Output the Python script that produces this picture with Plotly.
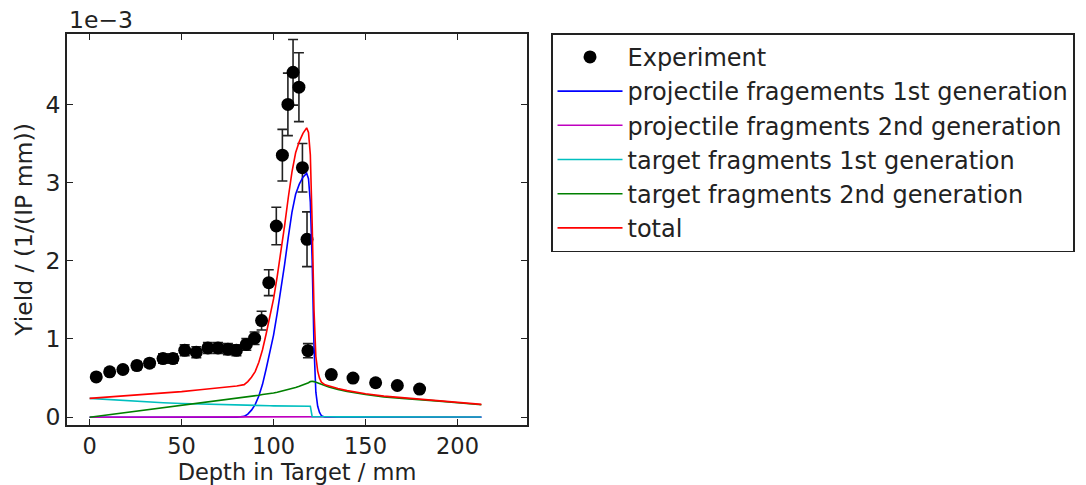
import numpy as np
import plotly.graph_objects as go

# ---------------- data (yield in units of 1e-3 per IP per mm) ----------------
exp_depth = [3.6, 10.9, 18.1, 25.7, 32.6, 39.9, 45.3, 51.7, 58.0, 64.3, 69.8, 75.2,
             79.8, 85.2, 89.7, 93.5, 97.4, 101.5, 104.8, 107.8, 110.6, 113.8, 115.7,
             118.2, 118.7, 131.4, 143.2, 155.5, 167.3, 179.4]
exp_yield = [0.515, 0.58, 0.61, 0.66, 0.69, 0.75, 0.75, 0.855, 0.83, 0.885, 0.885, 0.87,
             0.855, 0.93, 1.01, 1.235, 1.72, 2.445, 3.35, 4.0, 4.41, 4.22, 3.19,
             2.275, 0.85, 0.545, 0.50, 0.44, 0.405, 0.36]
exp_err = [0.04, 0.04, 0.045, 0.05, 0.05, 0.06, 0.06, 0.07, 0.07, 0.07, 0.07, 0.07,
           0.07, 0.075, 0.08, 0.12, 0.165, 0.24, 0.33, 0.40, 0.42, 0.44, 0.31,
           0.35, 0.09, 0.04, 0.04, 0.035, 0.035, 0.03]

sim_depth = [0, 10, 20, 30, 40, 50, 60, 70, 80, 84, 86, 88, 90, 92, 94, 96, 98, 100,
             102, 104, 106, 108, 110, 112, 114, 116, 118, 119, 120, 121, 122, 123, 124,
             125, 126, 128, 130, 135, 140, 150, 160, 170, 180, 190, 200, 213]

proj_1st = [0, 0, 0, 0, 0, 0, 0, 0, 0, 0.01, 0.04, 0.09, 0.16, 0.27, 0.42, 0.62, 0.85, 1.05,
            1.33, 1.63, 1.95, 2.30, 2.62, 2.85, 2.98, 3.07, 3.12, 3.05, 2.75, 2.00, 0.90, 0.32, 0.14,
            0.06, 0.02, 0, 0, 0, 0, 0, 0, 0, 0, 0, 0, 0]
proj_2nd = [0, 0.001, 0.001, 0.002, 0.002, 0.002, 0.003, 0.003, 0.004, 0.004, 0.004, 0.005, 0.005, 0.005, 0.006, 0.006, 0.006, 0.007,
            0.007, 0.007, 0.008, 0.008, 0.008, 0.009, 0.009, 0.009, 0.010, 0.010, 0.010, 0.010, 0.010, 0.009, 0.009,
            0.009, 0.008, 0.008, 0.007, 0.007, 0.006, 0.005, 0.005, 0.004, 0.004, 0.003, 0.003, 0.003]
targ_1st = [0.240, 0.225, 0.210, 0.197, 0.185, 0.175, 0.167, 0.160, 0.155, 0.152, 0.151, 0.150, 0.148, 0.147, 0.147, 0.146, 0.146, 0.145,
            0.145, 0.144, 0.144, 0.143, 0.142, 0.142, 0.141, 0.141, 0.140, 0.140, 0.140, 0.006, 0.005, 0.005, 0.005,
            0.005, 0.005, 0.005, 0.005, 0.004, 0.004, 0.004, 0.004, 0.004, 0.003, 0.003, 0.003, 0.003]
targ_2nd = [0, 0.030, 0.060, 0.090, 0.120, 0.150, 0.180, 0.210, 0.240, 0.250, 0.260, 0.265, 0.270, 0.280, 0.290, 0.295, 0.300, 0.310,
            0.320, 0.330, 0.345, 0.355, 0.365, 0.380, 0.395, 0.410, 0.430, 0.440, 0.455, 0.460, 0.455, 0.445, 0.435,
            0.425, 0.415, 0.400, 0.385, 0.355, 0.330, 0.290, 0.260, 0.240, 0.225, 0.205, 0.185, 0.158]
total = [0.240, 0.256, 0.271, 0.289, 0.307, 0.327, 0.350, 0.373, 0.399, 0.416, 0.455, 0.510, 0.583, 0.702, 0.863, 1.067, 1.302, 1.512,
         1.802, 2.111, 2.447, 2.806, 3.135, 3.381, 3.524, 3.630, 3.700, 3.640, 3.355, 2.476, 1.370, 0.779, 0.589,
         0.499, 0.448, 0.413, 0.397, 0.366, 0.340, 0.299, 0.269, 0.248, 0.232, 0.211, 0.191, 0.164]

series = [
    ("projectile fragements 1st generation", proj_1st, "#0000ff"),
    ("projectile fragments 2nd generation", proj_2nd, "#bf00bf"),
    ("target fragments 1st generation", targ_1st, "#00bfbf"),
    ("target fragments 2nd generation", targ_2nd, "#008000"),
    ("total", total, "#ff0000"),
]

SCALE = 1e-3
FONT = "DejaVu Sans"
FS = 23.5
XFS = 22.5
LFS = 24
INK = "#222222"

fig = go.Figure()
fig.add_trace(go.Scatter(
    x=exp_depth, y=np.array(exp_yield) * SCALE, mode="markers", name="Experiment",
    marker=dict(color="black", size=13),
    error_y=dict(type="data", array=np.array(exp_err) * SCALE, color=INK,
                 thickness=1.6, width=5),
))
for name, vals, col in series:
    fig.add_trace(go.Scatter(
        x=sim_depth, y=np.array(vals) * SCALE, mode="lines", name=name,
        line=dict(color=col, width=1.6),
    ))

ytick_vals = [0, 1, 2, 3, 4]
xtick_vals = [0, 50, 100, 150, 200]

axis_common = dict(showline=True, linecolor=INK, linewidth=1.6, mirror="ticks",
                   ticks="inside", ticklen=6, tickwidth=1, tickcolor=INK,
                   showgrid=False, zeroline=False)

fig.update_layout(
    width=1086, height=485,
    margin=dict(l=67, r=559, t=34, b=60, autoexpand=False),
    paper_bgcolor="white", plot_bgcolor="white",
    font=dict(family=FONT, size=FS, color=INK),
    xaxis=dict(range=[-12.3, 237.8], tickvals=xtick_vals,
               tickfont=dict(family=FONT, size=XFS, color=INK),
               title=dict(text="Depth in Target / mm", standoff=6,
                          font=dict(family=FONT, size=XFS, color=INK)),
               **axis_common),
    yaxis=dict(range=[-0.1 * SCALE, 4.9 * SCALE],
               tickvals=[v * SCALE for v in ytick_vals],
               ticktext=[str(v) for v in ytick_vals],
               tickfont=dict(family=FONT, size=FS, color=INK),
               title=dict(text="Yield / (1/(IP mm))", standoff=6,
                          font=dict(family=FONT, size=FS, color=INK)),
               **axis_common),
    legend=dict(x=1.052, y=1.002, xanchor="left", yanchor="top",
                bordercolor=INK, borderwidth=1.6, bgcolor="white",
                font=dict(family=FONT, size=LFS, color=INK),
                itemwidth=65, tracegroupgap=0),
    showlegend=True,
)
fig.add_annotation(text="1e\u22123", xref="paper", yref="paper", x=0, y=1,
                   xanchor="left", yanchor="bottom", showarrow=False, yshift=-2,
                   font=dict(family=FONT, size=FS, color=INK))

fig.write_html("out.html")
